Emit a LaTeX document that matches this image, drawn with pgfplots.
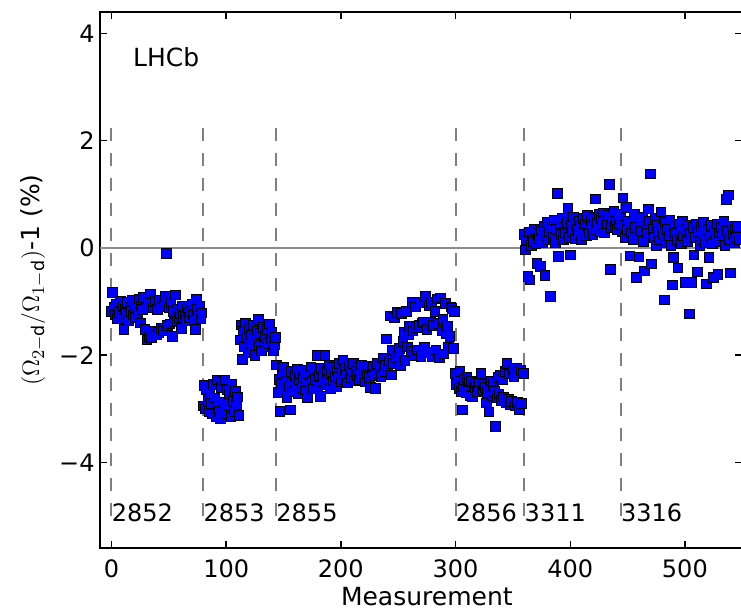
\documentclass[border=0pt]{standalone}
\usepackage{fontspec}
\setmainfont{DejaVu Sans}
\usepackage{pgfplots}
\pgfplotsset{compat=1.18}
\definecolor{runline}{gray}{0.5}
\definecolor{zeroline}{gray}{0.55}
\newcommand{\tickfont}{\fontsize{12}{14}\selectfont}
\newcommand{\labfont}{\fontsize{12.5}{15}\selectfont}

\begin{document}
\begin{tikzpicture}
\begin{axis}[
  scale only axis,
  width=321pt, height=268pt,
  xmin=-10, xmax=550, ymin=-5.6, ymax=4.4,
  clip=false,
  axis line style={line width=0.9pt},
  tick style={line width=0.7pt, black},
  major tick length=3.5pt,
  tick align=inside,
  xtick={0,100,200,300,400,500},
  xticklabels={0,100,200,300,400,500},
  ytick={-4,-2,0,2,4},
  yticklabels={−4,−2,0,2,4},
  xticklabel style={font=\tickfont, anchor=base, inner sep=0pt, yshift=-14.5pt},
  yticklabel style={font=\tickfont, anchor=east, inner sep=0pt, xshift=-2.5pt},
  xlabel={Measurement},
  xlabel style={at={(axis cs:275,-5.6)}, anchor=base, yshift=-28.5pt, font=\labfont},
  ylabel={\((\Omega_{2-\mathrm{d}}/\Omega_{1-\mathrm{d}})\)-1 (\%)},
  ylabel style={at={(axis cs:-68.4,-0.6)}, anchor=center, font=\labfont},
]
% run 2852
\addplot[only marks, mark=square*, mark size=2.4pt,
  mark options={fill=blue, draw=black, line width=0.45pt}] coordinates {
(0,-1.18) (1,-0.83) (2,-1.10) (3,-1.25) (4,-1.05) (5,-1.32) (6,-1.12) (7,-1.20)
(8,-1.00) (9,-1.28) (10,-1.08) (11,-1.52) (12,-1.15) (13,-1.22) (14,-1.02) (15,-1.35)
(16,-1.10) (17,-1.18) (18,-0.98) (19,-1.25) (20,-1.05) (21,-1.30) (22,-1.12) (23,-1.20)
(24,-0.95) (25,-1.40) (26,-1.08) (27,-1.15) (28,-0.92) (29,-1.52) (30,-1.10) (31,-1.72)
(32,-1.02) (33,-1.65) (34,-0.86) (35,-1.68) (36,-1.12) (37,-1.55) (38,-1.00) (39,-1.62)
(40,-1.15) (41,-1.58) (42,-0.98) (43,-1.50) (44,-1.10) (45,-1.55) (46,-1.05) (47,-0.90)
(48,-0.10) (49,-1.45) (50,-1.12) (51,-1.42) (52,-1.02) (53,-1.65) (54,-1.18) (55,-1.38)
(56,-0.88) (57,-1.35) (58,-1.15) (59,-1.30) (60,-1.22) (61,-1.50) (62,-1.08) (63,-1.28)
(64,-1.25) (65,-1.35) (66,-1.12) (67,-1.22) (68,-1.30) (69,-1.18) (70,-1.05) (71,-1.25)
(72,-1.35) (73,-1.52) (74,-0.95) (75,-1.15) (76,-1.28) (77,-1.08) (78,-1.32) (79,-1.21)
% run 2853
(80,-2.95) (81,-2.57) (82,-3.00) (83,-2.65) (84,-2.85) (85,-3.05) (86,-2.70) (87,-2.90)
(88,-3.10) (89,-2.55) (90,-2.80) (91,-3.15) (92,-2.46) (93,-2.95) (94,-3.05) (95,-3.18)
(96,-2.60) (97,-2.48) (98,-2.88) (99,-2.46) (100,-3.10) (101,-2.65) (102,-2.95) (103,-2.72)
(104,-3.15) (105,-2.55) (106,-2.85) (107,-3.05) (108,-2.68) (109,-2.92) (110,-2.78) (111,-3.12)
(112,-1.72) (113,-1.44) (114,-2.08) (115,-1.55) (116,-1.85) (117,-1.40) (118,-1.68) (119,-1.95)
(120,-1.50) (121,-1.78) (122,-1.62) (123,-1.88) (124,-1.45) (125,-2.01) (126,-1.70) (127,-1.55)
(128,-1.33) (129,-1.82) (130,-1.60) (131,-1.92) (132,-1.48) (133,-1.75) (134,-1.65) (135,-1.85)
(136,-1.52) (137,-1.78) (138,-1.42) (139,-1.70) (140,-1.58) (141,-1.92) (142,-1.80) (143,-1.67)
% run 2855
(144,-2.18) (145,-2.70) (146,-2.45) (147,-3.05) (148,-2.55) (149,-2.35) (150,-2.22) (151,-2.62)
(152,-2.48) (153,-2.80) (154,-2.40) (155,-2.58) (156,-3.02) (157,-2.30) (158,-2.52) (159,-2.68)
(160,-2.38) (161,-2.55) (162,-2.26) (163,-2.72) (164,-2.45) (165,-2.35) (166,-2.60) (167,-2.42)
(168,-2.28) (169,-2.65) (170,-2.50) (171,-2.80) (172,-2.35) (173,-2.55) (174,-2.22) (175,-2.48)
(176,-2.62) (177,-2.32) (178,-2.45) (179,-2.01) (180,-2.58) (181,-2.38) (182,-2.77) (183,-2.25)
(184,-2.50) (185,-2.40) (186,-2.00) (187,-2.55) (188,-2.30) (189,-2.45) (190,-2.18) (191,-2.62)
(192,-2.35) (193,-2.48) (194,-2.22) (195,-2.40) (196,-2.58) (197,-2.28) (198,-2.42) (199,-2.15)
(200,-2.50) (201,-2.32) (202,-2.09) (203,-2.45) (204,-2.25) (205,-2.38) (206,-2.52) (207,-2.20)
(208,-2.35) (209,-2.42) (210,-2.28) (211,-2.15) (212,-2.48) (213,-2.30) (214,-2.38) (215,-2.22)
(216,-2.45) (217,-2.32) (218,-2.18) (219,-2.40) (220,-2.28) (221,-2.50) (222,-2.25) (223,-2.35)
(224,-2.20) (225,-2.42) (226,-2.60) (227,-2.30) (228,-2.22) (229,-2.38) (230,-2.62) (231,-2.28)
(232,-2.15) (233,-2.35) (234,-2.25) (235,-2.40) (236,-2.20) (237,-2.05) (238,-2.30) (239,-2.18)
(240,-1.70) (241,-2.25) (242,-2.10) (243,-1.27) (244,-2.37) (245,-1.90) (246,-2.15) (247,-1.30)
(248,-2.05) (249,-1.20) (250,-1.95) (251,-1.87) (252,-2.20) (253,-1.22) (254,-1.75) (255,-1.58)
(256,-2.10) (257,-1.18) (258,-1.85) (259,-1.62) (260,-1.47) (261,-1.93) (262,-1.02) (263,-1.55)
(264,-2.00) (265,-1.10) (266,-1.48) (267,-1.90) (268,-1.44) (269,-1.02) (270,-2.02) (271,-1.40)
(272,-1.38) (273,-1.85) (274,-0.90) (275,-1.52) (276,-1.95) (277,-1.08) (278,-1.38) (279,-1.02)
(280,-2.02) (281,-1.45) (282,-1.18) (283,-1.90) (284,-0.95) (285,-1.41) (286,-2.05) (287,-0.93)
(288,-1.55) (289,-1.33) (290,-1.98) (291,-1.04) (292,-1.60) (293,-1.47) (294,-1.85) (295,-1.65)
(296,-1.10) (297,-1.13) (298,-1.87) (299,-1.18)
% run 2856
(300,-2.34) (301,-2.55) (302,-2.40) (303,-2.62) (304,-2.30) (305,-2.68) (306,-3.02) (307,-2.58)
(308,-2.45) (309,-2.70) (310,-2.42) (311,-2.62) (312,-2.50) (313,-2.75) (314,-2.48) (315,-2.77)
(316,-2.55) (317,-2.60) (318,-2.52) (319,-2.68) (320,-2.58) (321,-2.50) (322,-2.34) (323,-2.62)
(324,-2.65) (325,-2.55) (326,-2.60) (327,-2.89) (328,-2.70) (329,-3.06) (330,-2.62) (331,-2.48)
(332,-2.75) (333,-2.55) (334,-2.68) (335,-3.33) (336,-2.80) (337,-2.42) (338,-2.72) (339,-2.38)
(340,-2.85) (341,-2.45) (342,-2.78) (343,-2.30) (344,-2.88) (345,-2.15) (346,-2.82) (347,-2.35)
(348,-2.92) (349,-2.86) (350,-2.28) (351,-2.40) (352,-2.95) (353,-2.25) (354,-2.88) (355,-2.32)
(356,-3.02) (357,-2.28) (358,-2.90) (359,-2.34)
% run 3311
(360,0.25) (361,-0.04) (362,0.15) (363,-0.53) (364,0.30) (365,-0.60) (366,0.05) (367,0.22)
(368,0.12) (369,0.35) (370,0.08) (371,-0.29) (372,0.28) (373,0.18) (374,-0.35) (375,0.32)
(376,0.10) (377,0.40) (378,-0.51) (379,0.22) (380,0.48) (381,0.15) (382,0.30) (383,-0.90)
(384,0.38) (385,0.20) (386,0.52) (387,0.10) (388,0.35) (389,1.02) (390,-0.16) (391,0.45)
(392,0.25) (393,0.55) (394,0.15) (395,0.38) (396,0.28) (397,0.48) (398,0.74) (399,0.20)
(400,-0.13) (401,0.42) (402,0.30) (403,0.58) (404,0.18) (405,0.45) (406,0.35) (407,0.25)
(408,0.50) (409,0.40) (410,0.15) (411,0.55) (412,0.32) (413,0.45) (414,0.22) (415,0.60)
(416,0.38) (417,0.28) (418,0.52) (419,0.42) (420,0.25) (421,0.58) (422,0.91) (423,0.35)
(424,0.48) (425,0.62) (426,0.30) (427,0.55) (428,0.40) (429,0.65) (430,0.28) (431,0.50)
(432,0.45) (433,0.60) (434,1.18) (435,-0.40) (436,0.38) (437,0.55) (438,0.68) (439,0.42)
(440,0.50) (441,0.35) (442,0.62) (443,0.45)
% run 3316
(444,0.55) (445,0.30) (446,0.93) (447,0.42) (448,0.20) (449,0.76) (450,0.35) (451,0.50)
(452,-0.15) (453,0.28) (454,0.45) (455,0.15) (456,0.62) (457,0.38) (458,-0.55) (459,0.25)
(460,-0.17) (461,0.48) (462,0.32) (463,0.58) (464,0.12) (465,-0.43) (466,0.40) (467,0.28)
(468,0.73) (469,0.50) (470,1.38) (471,-0.30) (472,0.35) (473,0.20) (474,0.55) (475,0.05)
(476,0.42) (477,0.30) (478,0.15) (479,0.67) (480,0.38) (481,0.25) (482,-0.97) (483,0.48)
(484,0.10) (485,0.35) (486,0.22) (487,0.52) (488,0.05) (489,-0.69) (490,-0.18) (491,0.40)
(492,0.28) (493,0.15) (494,-0.37) (495,0.45) (496,0.30) (497,0.08) (498,0.50) (499,0.22)
(500,-0.64) (501,0.35) (502,0.12) (503,0.42) (504,-1.23) (505,0.28) (506,-0.64) (507,0.38)
(508,-0.13) (509,0.20) (510,0.45) (511,-0.45) (512,0.30) (513,0.05) (514,0.40) (515,0.15)
(516,0.48) (517,0.25) (518,0.10) (519,-0.67) (520,0.35) (521,-0.18) (522,0.22) (523,0.42)
(524,0.08) (525,-0.55) (526,0.30) (527,0.18) (528,0.45) (529,-0.50) (530,0.28) (531,0.12)
(532,0.38) (533,0.22) (534,0.50) (535,0.05) (536,0.90) (537,0.32) (538,0.99) (539,0.15)
(540,-0.47) (541,0.40) (542,0.25) (543,0.10) (544,0.35) (545,0.20) (546,0.40) (547,0.15)
};
% zero line
\addplot[zeroline, line width=0.8pt] coordinates {(-10,0) (560,0)};
% run boundaries
\addplot[runline, line width=1pt, dash pattern=on 6.5pt off 6pt] coordinates {(0,2.24) (0,-5.17)};
\addplot[runline, line width=1pt, dash pattern=on 6.5pt off 6pt] coordinates {(80,2.24) (80,-5.17)};
\addplot[runline, line width=1pt, dash pattern=on 6.5pt off 6pt] coordinates {(143.5,2.24) (143.5,-5.17)};
\addplot[runline, line width=1pt, dash pattern=on 6.5pt off 6pt] coordinates {(300,2.24) (300,-5.17)};
\addplot[runline, line width=1pt, dash pattern=on 6.5pt off 6pt] coordinates {(360,2.24) (360,-5.17)};
\addplot[runline, line width=1pt, dash pattern=on 6.5pt off 6pt] coordinates {(444,2.24) (444,-5.17)};
% run numbers
\node[anchor=west, inner sep=0pt, font=\tickfont] at (axis cs:0,-4.94) {2852};
\node[anchor=west, inner sep=0pt, font=\tickfont] at (axis cs:80,-4.94) {2853};
\node[anchor=west, inner sep=0pt, font=\tickfont] at (axis cs:143.5,-4.94) {2855};
\node[anchor=west, inner sep=0pt, font=\tickfont] at (axis cs:300,-4.94) {2856};
\node[anchor=west, inner sep=0pt, font=\tickfont] at (axis cs:360,-4.94) {3311};
\node[anchor=west, inner sep=0pt, font=\tickfont] at (axis cs:444,-4.94) {3316};
\node[anchor=west, inner sep=0pt, font=\labfont] at (axis cs:18.5,3.56) {LHCb};
\end{axis}
\pgfresetboundingbox
\path[use as bounding box] ([shift={(-50pt,-30.5pt)}]current axis.south west)
  rectangle ([shift={(-0.6pt,6pt)}]current axis.north east);
\end{tikzpicture}
\end{document}
